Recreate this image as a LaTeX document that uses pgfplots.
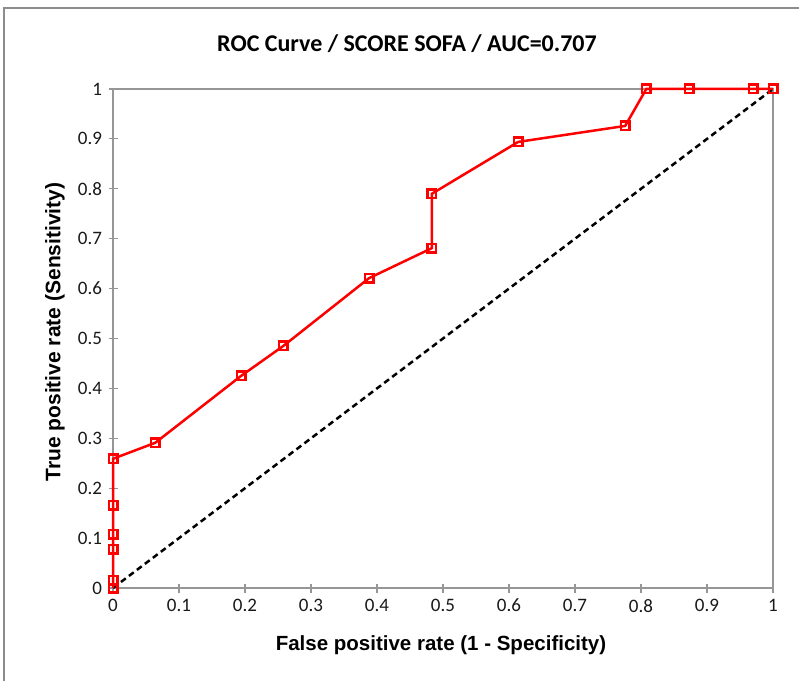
\documentclass[border=0pt]{standalone}
\usepackage{pgfplots}
\pgfplotsset{compat=1.18}
\usepackage{fontspec}
\setmainfont{Carlito}
\newfontfamily\arial{Liberation Sans}
\definecolor{axisgray}{RGB}{150,150,150}
\definecolor{framegray}{RGB}{140,140,140}
\definecolor{rocred}{RGB}{255,0,0}
\begin{document}
\begin{tikzpicture}[x=1pt,y=1pt]
\useasboundingbox (0,0) rectangle (799,681);
\fill[white] (0,0) rectangle (799,681);
\draw[line width=2.2pt, color=framegray] (4,0) -- (4,673) -- (799,673);
\begin{axis}[
  at={(113pt,93pt)}, anchor=south west,
  scale only axis, width=660pt, height=499pt,
  xmin=0, xmax=1, ymin=0, ymax=1,
  xtick={0,0.1,0.2,0.3,0.4,0.5,0.6,0.7,0.8,0.9,1},
  ytick={0,0.1,0.2,0.3,0.4,0.5,0.6,0.7,0.8,0.9,1},
  xtick pos=bottom, ytick pos=left,
  tick align=center, major tick length=9pt,
  axis line style={axisgray, line width=1.3pt},
  every tick/.style={axisgray, line width=1.1pt},
  /pgf/number format/assume math mode=true,
  /pgf/number format/fixed,
  ticklabel style={font=\fontsize{19}{19}\selectfont, text=black!90},
  xticklabel style={yshift=-3pt},
  yticklabel style={xshift=-3pt},
  clip=false,
]
\addplot[black, line width=2.5pt, dash pattern=on 6pt off 4pt] coordinates {(0,0) (1,1)};
\addplot[rocred, line width=2.5pt, mark=square, mark size=4.3pt,
  mark options={solid, fill=white, line width=2.4pt}] coordinates {
(0,0)
(0,0.016)
(0,0.078)
(0,0.108)
(0,0.166)
(0,0.259)
(0.064,0.291)
(0.194,0.425)
(0.258,0.485)
(0.388,0.621)
(0.483,0.681)
(0.483,0.790)
(0.614,0.894)
(0.776,0.926)
(0.808,1)
(0.873,1)
(0.970,1)
(1,1)
};
\end{axis}
\node[font=\bfseries\fontsize{24}{24}\selectfont] at (407,637) {ROC Curve / SCORE SOFA / AUC=0.707};
\node[font=\arial\bfseries\fontsize{20.5}{20.5}\selectfont] at (441,36) {False positive rate (1 - Specificity)};
\node[font=\arial\bfseries\fontsize{21}{21}\selectfont, rotate=90] at (55,349) {True positive rate (Sensitivity)};
\end{tikzpicture}
\end{document}
